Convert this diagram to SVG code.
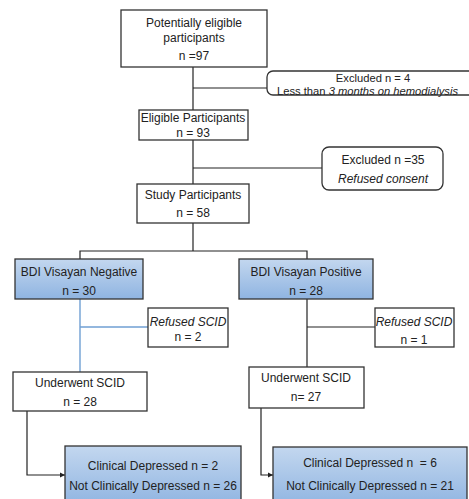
<svg xmlns="http://www.w3.org/2000/svg" width="469" height="499" viewBox="0 0 469 499">
<style>
text{font-family:"Liberation Sans",Arial,sans-serif;font-size:12px;fill:#222;text-anchor:middle}
.it{font-style:italic}
.sm{font-size:11.2px}
.box{fill:#fff;stroke:#333;stroke-width:1.3}
.blue{fill:url(#g);stroke:#333;stroke-width:1.3}
.ln{fill:none;stroke:#222;stroke-width:1.2}
.bl{fill:none;stroke:#6f9fd3;stroke-width:1.4}
</style>
<defs>
<linearGradient id="g" x1="0" y1="0" x2="0" y2="1">
<stop offset="0" stop-color="#c3d7ef"/>
<stop offset="1" stop-color="#8fb4e1"/>
</linearGradient>
<marker id="ar" markerWidth="6" markerHeight="6" refX="5" refY="3" orient="auto" markerUnits="userSpaceOnUse">
<path d="M0,0.5 L5,3 L0,5.5 z" fill="#222"/>
</marker>
</defs>
<g id="connectors">
<path class="ln" d="M193,67 V110"/>
<path class="ln" d="M193,88 H267"/>
<path class="ln" d="M193,140 V184"/>
<path class="ln" d="M193,168 H322"/>
<path class="ln" d="M193,223 V251"/>
<path class="ln" d="M80,259 V251 H307 V259"/>
<path class="bl" d="M80,299 V372"/>
<path class="bl" d="M80,327 H148"/>
<path class="ln" d="M307,299 V367"/>
<path class="ln" d="M307,327 H375"/>
<path class="ln" d="M27,411 V475 H65" marker-end="url(#ar)"/>
<path class="ln" d="M261,408 V475 H273" marker-end="url(#ar)"/>
</g>
<g id="potential">
<rect class="box" x="121" y="10" width="146" height="57"/>
<text x="194" y="27">Potentially eligible</text>
<text x="194" y="42">participants</text>
<text x="194" y="60">n =97</text>
</g>
<g id="excluded1">
<rect class="box" x="267" y="71" width="215" height="24" rx="6"/>
<text x="373" y="82" class="sm">Excluded n = 4</text>
<text x="277" y="95" class="sm" style="text-anchor:start">Less than <tspan class="it">3 months on hemodialysis</tspan></text>
</g>
<g id="eligible">
<rect class="box" x="139" y="110" width="109" height="30"/>
<text x="193" y="122">Eligible Participants</text>
<text x="193" y="137">n = 93</text>
</g>
<g id="excluded2">
<rect class="box" x="322" y="147" width="121" height="43" rx="7"/>
<text x="383" y="164">Excluded n =35</text>
<text x="383" y="183" class="it">Refused consent</text>
</g>
<g id="study">
<rect class="box" x="137" y="184" width="112" height="39"/>
<text x="193" y="199">Study Participants</text>
<text x="193" y="217">n = 58</text>
</g>
<g id="bdineg">
<rect class="blue" x="15" y="259" width="128" height="40"/>
<text x="79" y="276">BDI Visayan Negative</text>
<text x="79" y="295">n = 30</text>
</g>
<g id="bdipos">
<rect class="blue" x="239" y="259" width="134" height="40"/>
<text x="306" y="276">BDI Visayan Positive</text>
<text x="306" y="295">n = 28</text>
</g>
<g id="refused1">
<rect class="box" x="148" y="308" width="80" height="39"/>
<text x="188" y="326" class="it">Refused SCID</text>
<text x="188" y="341">n = 2</text>
</g>
<g id="refused2">
<rect class="box" x="375" y="308" width="79" height="39"/>
<text x="414" y="326" class="it">Refused SCID</text>
<text x="414" y="344">n = 1</text>
</g>
<g id="scid1">
<rect class="box" x="13" y="372" width="134" height="39"/>
<text x="80" y="387">Underwent SCID</text>
<text x="80" y="406">n = 28</text>
</g>
<g id="scid2">
<rect class="box" x="249" y="367" width="115" height="41"/>
<text x="306" y="382">Underwent SCID</text>
<text x="306" y="401">n= 27</text>
</g>
<g id="result1">
<rect class="blue" x="65" y="446" width="176" height="60"/>
<text x="153" y="470">Clinical Depressed n = 2</text>
<text x="153" y="490">Not Clinically Depressed n = 26</text>
</g>
<g id="result2">
<rect class="blue" x="273" y="447" width="194" height="60"/>
<text x="370" y="467" style="white-space:pre">Clinical Depressed n  = 6</text>
<text x="370" y="490">Not Clinically Depressed n = 21</text>
</g>
</svg>
